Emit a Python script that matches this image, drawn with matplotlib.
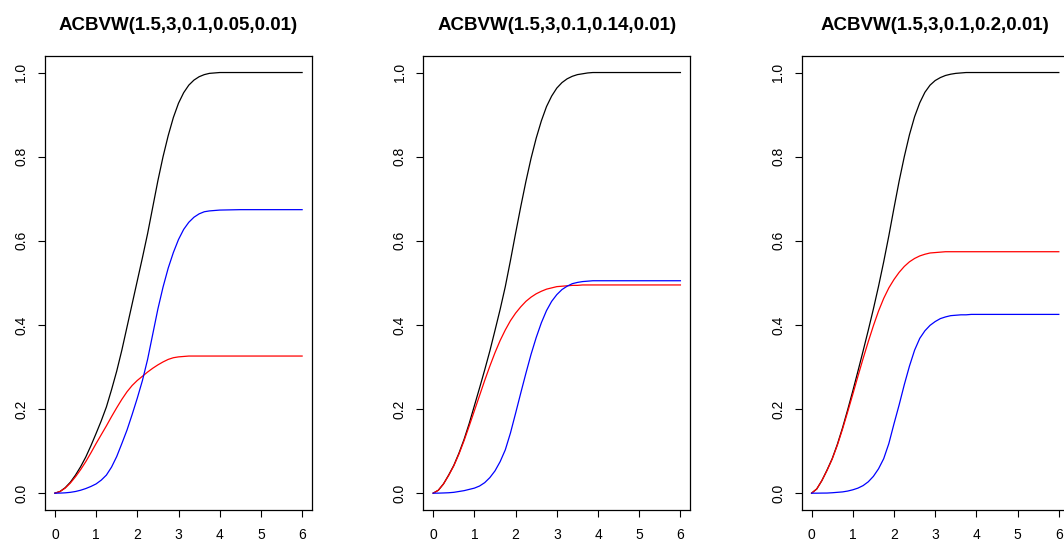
import matplotlib
matplotlib.use("Agg")
import matplotlib.pyplot as plt

plt.rcParams['font.family'] = ['Liberation Sans', 'DejaVu Sans']

# ---- data ----
t = [0, 0.125, 0.25, 0.375, 0.5, 0.625, 0.75, 0.875, 1.0, 1.125, 1.25,
     1.375, 1.5, 1.625, 1.75, 1.875, 2.0, 2.125, 2.25, 2.375, 2.5, 2.625,
     2.75, 2.875, 3.0, 3.125, 3.25, 3.375, 3.5, 3.625, 3.75, 3.875, 4.0,
     4.5, 5.0, 6.0]

titles = ["ACBVW(1.5,3,0.1,0.05,0.01)",
          "ACBVW(1.5,3,0.1,0.14,0.01)",
          "ACBVW(1.5,3,0.1,0.2,0.01)"]

black1 = [0, .004, .013, .026, .043, .063, .086, .113, .142, .172, .205,
          .246, .29, .34, .395, .45, .505, .56, .617, .68, .743, .8, .85,
          .893, .927, .952, .97, .982, .99, .995, .998, .999, 1.0, 1.0, 1.0,
          1.0]
red1 = [0, .004, .012, .024, .039, .056, .075, .096, .118, .139, .16, .182,
        .203, .223, .241, .256, .268, .278, .288, .297, .305, .312, .318, .322,
        .324, .325, .326, .326, .326, .326, .326, .326, .326, .326, .326, .326]
blue1 = [0, .0002, .0008, .002, .004, .007, .011, .016, .022, .031, .043,
         .062, .087, .118, .15, .187, .226, .268, .318, .378, .438, .49, .535,
         .572, .603, .627, .644, .656, .664, .669, .671, .672, .673, .674,
         .674, .674]

black2 = [0, .007, .022, .043, .066, .095, .128, .166, .208, .25, .293, .338,
          .387, .437, .491, .553, .618, .681, .741, .796, .844, .885, .919,
          .944, .963, .976, .985, .991, .995, .997, .999, 1.0, 1.0, 1.0, 1.0,
          1.0]
red2 = [0, .007, .022, .042, .065, .093, .125, .16, .196, .232, .268, .302,
        .334, .363, .388, .41, .428, .443, .456, .466, .474, .48, .485, .488,
        .491, .492, .493, .494, .494, .495, .495, .495, .495, .495, .495, .495]
blue2 = [0, .0001, .0005, .001, .002, .004, .006, .009, .012, .017, .025,
         .037, .053, .075, .103, .143, .19, .238, .285, .33, .37, .405, .434,
         .456, .472, .484, .492, .498, .501, .503, .504, .505, .505, .505,
         .505, .505]

black3 = [0, .01, .03, .055, .082, .116, .155, .198, .243, .29, .338, .387,
          .438, .492, .55, .612, .678, .742, .8, .852, .895, .928, .953, .97,
          .981, .988, .993, .996, .998, .999, 1.0, 1.0, 1.0, 1.0, 1.0, 1.0]
red3 = [0, .01, .03, .054, .081, .114, .152, .193, .235, .278, .32, .36,
        .398, .433, .463, .488, .508, .525, .539, .55, .558, .564, .568,
        .571, .572, .573, .574, .574, .574, .574, .574, .574, .574, .574,
        .574, .574]
blue3 = [0, 0, .0002, .0003, .001, .002, .003, .005, .008, .012, .018, .027,
         .04, .058, .082, .118, .165, .21, .258, .302, .34, .368, .386, .399,
         .408, .415, .419, .422, .423, .424, .424, .425, .425, .425, .425,
         .425]

blacks = [black1, black2, black3]
reds = [red1, red2, red3]
blues = [blue1, blue2, blue3]

xticks = [0, 1, 2, 3, 4, 5, 6]
yticks = [0.0, 0.2, 0.4, 0.6, 0.8, 1.0]
ytick_labels = ["0.0", "0.2", "0.4", "0.6", "0.8", "1.0"]

# ---- figure ----
W, H = 1064, 543
fig = plt.figure(figsize=(W / 100, H / 100), dpi=100)

lefts = [45, 423.3, 801.7]
ax_w, ax_top, ax_bot = 267, 55.7, 510

for i in range(3):
    ax = fig.add_axes([lefts[i] / W, (H - ax_bot) / H, ax_w / W,
                       (ax_bot - ax_top) / H])
    ax.plot(t, blacks[i], color="black", lw=0.9)
    ax.plot(t, reds[i], color="#ff0000", lw=0.9)
    ax.plot(t, blues[i], color="#0000ff", lw=0.9)
    ax.set_xlim(-0.24, 6.24)
    ax.set_ylim(-0.04, 1.04)
    ax.set_xticks(xticks)
    ax.set_xticklabels([str(v) for v in xticks])
    ax.set_yticks(yticks)
    ax.set_yticklabels(ytick_labels, rotation=90, va="center")
    ax.tick_params(axis="both", direction="out", length=5, width=0.8,
                   labelsize=10, colors="black")
    ax.tick_params(axis="x", pad=8)
    ax.tick_params(axis="y", pad=7)
    for s in ax.spines.values():
        s.set_linewidth(0.9)
    ax.set_title(titles[i], fontsize=13.5, fontweight="bold", pad=18.5)

fig.savefig("out.png", dpi=100)
